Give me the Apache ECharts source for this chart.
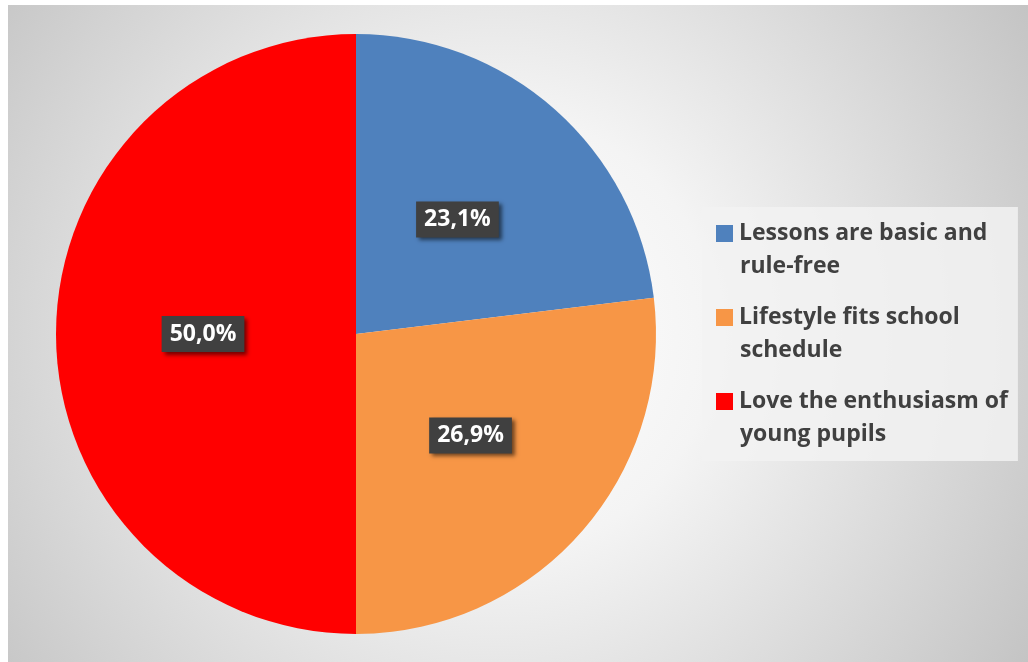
<!DOCTYPE html>
<html>
<head>
<meta charset="utf-8">
<script src="https://cdn.jsdelivr.net/npm/echarts@6/dist/echarts.min.js"></script>
<style>
  html, body { margin: 0; padding: 0; background: #fff; }
  #chart { width: 1028px; height: 662px; }
</style>
</head>
<body>
<div id="chart"></div>
<script>
// reasons (legend text, split in two lines like the original)
const categories = ['Lessons are basic and rule-free', 'Lifestyle fits school schedule', 'Love the enthusiasm of young pupils']
const legendLines = [
  ['Lessons are basic and', 'rule-free'],
  ['Lifestyle fits school', 'schedule'],
  ['Love the enthusiasm of', 'young pupils']
]
// answer counts (23,1% / 26,9% / 50,0%)
const values = [6, 7, 13]
const colors = ['#4f81bd', '#f79646', '#ff0000']

const chart = echarts.init(document.getElementById('chart'))

const font = 'Open Sans'

// rich styles for the legend: coloured square on the first line, indent on the second
const legendRich = {
  t: { fontFamily: font, fontWeight: 'bold', fontSize: 23, color: '#404040', lineHeight: 33 },
  sp: { width: 24, height: 17 }
}
colors.forEach((c, i) => {
  legendRich['b' + i] = { width: 17, height: 17, backgroundColor: c }
})

const option = {
  backgroundColor: '#ffffff',
  graphic: [
    {
      type: 'rect',
      silent: true,
      z: -10,
      shape: { x: 8, y: 5, width: 1020, height: 657 },
      style: {
        fill: new echarts.graphic.RadialGradient(0.48, 0.5, 0.95, [
          { offset: 0, color: '#ffffff' },
          { offset: 0.35, color: '#f4f4f4' },
          { offset: 1, color: '#c4c4c4' }
        ])
      }
    }
  ],
  legend: {
    orient: 'vertical',
    left: 702,
    top: 207,
    width: 318,
    padding: [10, 10, 10, 9],
    itemGap: 18,
    icon: 'rect',
    itemWidth: 0,
    itemHeight: 0,
    backgroundColor: 'rgba(242,242,242,0.85)',
    selectedMode: false,
    data: categories,
    formatter: name => {
      const i = categories.indexOf(name)
      const lines = legendLines[i]
      return '{b' + i + '|}{t| ' + lines[0] + '}\n{sp|}{t|' + lines[1] + '}'
    },
    textStyle: {
      fontFamily: font,
      fontWeight: 'bold',
      fontSize: 23,
      color: '#404040',
      lineHeight: 33,
      rich: legendRich
    }
  },
  series: [
    {
      type: 'pie',
      center: [356, 334],
      radius: 300,
      startAngle: 90,
      clockwise: true,
      avoidLabelOverlap: false,
      silent: true,
      color: colors,
      data: categories.map((c, i) => ({ name: c, value: values[i] })),
      label: {
        show: true,
        position: 'inside',
        formatter: p => p.percent.toFixed(1).replace('.', ',') + '%',
        fontFamily: font,
        fontWeight: 'bold',
        fontSize: 23,
        color: '#ffffff',
        backgroundColor: '#404040',
        padding: [7, 8, 6, 8],
        shadowColor: 'rgba(0,0,0,0.55)',
        shadowBlur: 4,
        shadowOffsetX: 3,
        shadowOffsetY: 3
      },
      labelLine: { show: false },
      itemStyle: { borderWidth: 0 }
    }
  ]
}

chart.setOption(option)
window.addEventListener('resize', () => {
  chart.resize()
})
</script>
</body>
</html>
